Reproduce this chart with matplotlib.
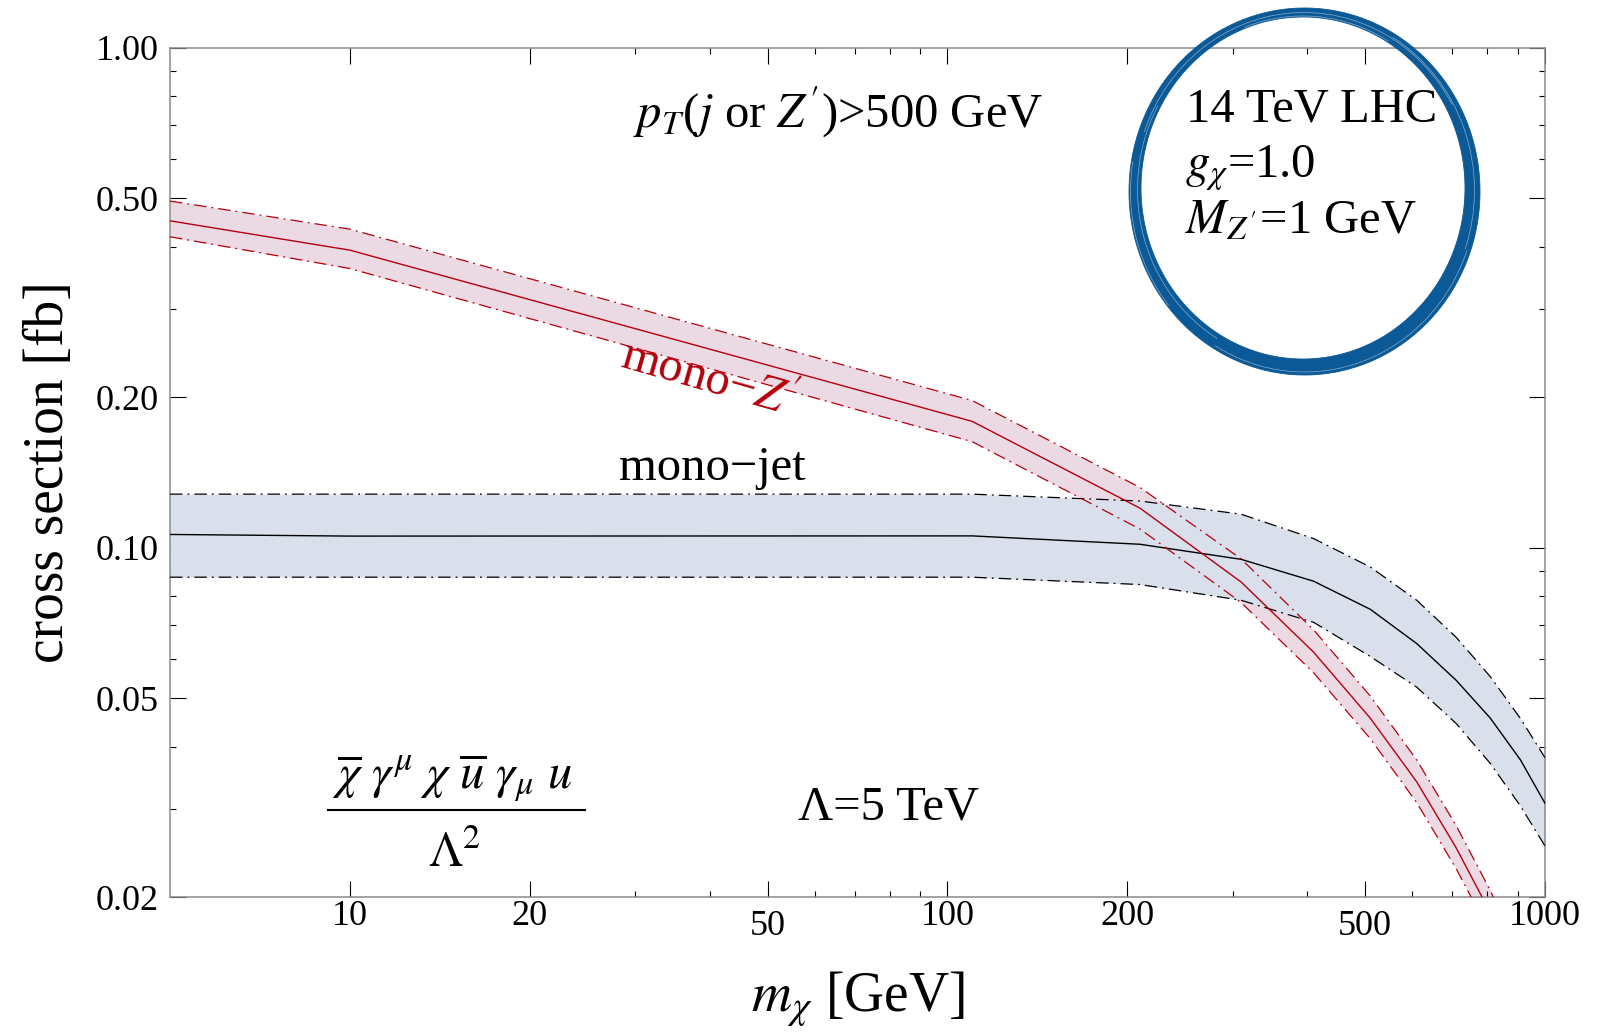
import numpy as np
import matplotlib
matplotlib.use("Agg")
import matplotlib.pyplot as plt
from matplotlib.patches import PathPatch, Arc
from matplotlib.path import Path
from matplotlib.ticker import FixedLocator, FixedFormatter, NullFormatter

plt.rcParams['font.family'] = ['Liberation Serif', 'DejaVu Serif']
plt.rcParams['mathtext.fontset'] = 'stix'

# dark matter mass grid [GeV]
m_chi = [5, 10, 110, 210, 310, 410, 510, 610, 710, 810, 910, 1000]

# mono-jet cross section [fb]: central value and scale band
jet_mid = [0.1063, 0.1055, 0.1056, 0.1016, 0.0948, 0.0857, 0.0753, 0.0643, 0.0543, 0.0456, 0.0376, 0.0308]
jet_hi = [0.128, 0.128, 0.128, 0.124, 0.1167, 0.1043, 0.0915, 0.0785, 0.0662, 0.0552, 0.0455, 0.0380]
jet_lo = [0.0873, 0.0873, 0.0873, 0.0844, 0.0785, 0.0709, 0.0606, 0.0526, 0.0445, 0.0370, 0.0304, 0.0253]

# mono-Z' cross section [fb]
zp_mid = [0.451, 0.394, 0.179, 0.120, 0.0854, 0.0618, 0.0456, 0.0340, 0.0251, 0.0186, 0.0137, 0.0105]
zp_hi = [0.494, 0.434, 0.197, 0.132, 0.095, 0.0685, 0.0505, 0.0376, 0.0278, 0.0206, 0.0152, 0.0116]
zp_lo = [0.419, 0.362, 0.163, 0.109, 0.0777, 0.0562, 0.0415, 0.0309, 0.0228, 0.0169, 0.0125, 0.0096]

x_major = [10, 20, 50, 100, 200, 500, 1000]
x_major_labels = ['10', '20', '50', '100', '200', '500', '1000']
x_minor = [30, 40, 60, 70, 80, 90, 300, 400, 600, 700, 800, 900]
y_major = [0.02, 0.05, 0.1, 0.2, 0.5, 1.0]
y_major_labels = ['0.02', '0.05', '0.10', '0.20', '0.50', '1.00']
y_minor = [0.03, 0.04, 0.06, 0.07, 0.08, 0.09, 0.3, 0.4, 0.6, 0.7, 0.8, 0.9]

W, H = 1608, 1033
fig = plt.figure(figsize=(W / 100, H / 100), dpi=100)
ax = fig.add_axes([170 / W, 1 - 897 / H, 1375 / W, 849 / H])

red = '#b3000c'
red_fill = '#ebd9e3'
blue_fill = '#d9dfeb'
dashdot = (0, (10, 4, 1.5, 4))

ax.fill_between(m_chi, zp_lo, zp_hi, color=red_fill, lw=0, zorder=1)
ax.fill_between(m_chi, jet_lo, jet_hi, color=blue_fill, lw=0, zorder=2)

ax.plot(m_chi, jet_hi, color='black', lw=0.9, ls=dashdot, zorder=3)
ax.plot(m_chi, jet_lo, color='black', lw=0.9, ls=dashdot, zorder=3)
ax.plot(m_chi, jet_mid, color='black', lw=1.0, zorder=3)
ax.plot(m_chi, zp_hi, color=red, lw=0.9, ls=dashdot, zorder=4)
ax.plot(m_chi, zp_lo, color=red, lw=0.9, ls=dashdot, zorder=4)
ax.plot(m_chi, zp_mid, color=red, lw=1.0, zorder=4)

ax.set_xscale('log')
ax.set_yscale('log')
ax.set_xlim(5, 1000)
ax.set_ylim(0.02, 1.0)

ax.xaxis.set_major_locator(FixedLocator(x_major))
ax.xaxis.set_major_formatter(NullFormatter())
ax.xaxis.set_minor_locator(FixedLocator(x_minor))
ax.xaxis.set_minor_formatter(NullFormatter())
ax.yaxis.set_major_locator(FixedLocator(y_major))
ax.yaxis.set_major_formatter(FixedFormatter(y_major_labels))
ax.yaxis.set_minor_locator(FixedLocator(y_minor))
ax.yaxis.set_minor_formatter(NullFormatter())

ax.tick_params(which='both', direction='in', top=True, right=True,
               color='black', width=0.8, labelsize=26)
ax.tick_params(which='major', length=11.5)
ax.tick_params(which='minor', length=4)
ax.tick_params(axis='y', pad=8)
for s in ax.spines.values():
    s.set_color('#8a8a8a')
    s.set_linewidth(1.1)

# x tick labels, with 50 and 500 set a little lower
xt = ax.get_xaxis_transform()
for v, lab in zip(x_major, x_major_labels):
    dy = -0.012 if lab in ('50', '500') else 0.0
    ax.text(v, -0.003 + dy, lab, transform=xt, ha='center', va='top', fontsize=26)

ax.set_xlabel(r'$m_\chi$ [GeV]', fontsize=40)
ax.xaxis.set_label_coords(0.5, -0.086)
ax.set_ylabel('cross section [fb]', fontsize=40)
ax.yaxis.set_label_coords(-0.069, 0.5)


def axpos(px, py):
    return (px - 170) / 1375, (897 - py) / 849


big = 35
ax.text(*axpos(838, 128), r'$p_T$($j$ or $Z^{\prime}$)>500 GeV', transform=ax.transAxes,
        ha='center', va='baseline', fontsize=big)
ax.text(*axpos(708, 380), 'mono\u2212$Z^{\\prime}$', transform=ax.transAxes, color=red,
        ha='center', va='center', rotation=-16, fontsize=big)
ax.text(*axpos(712, 480), 'mono\u2212jet', transform=ax.transAxes,
        ha='center', va='baseline', fontsize=big)
ax.text(*axpos(889, 820), '\u039b=5 TeV', transform=ax.transAxes,
        ha='center', va='baseline', fontsize=big)

# operator written as a fraction
ax.text(*axpos(452, 788),
        r'$\overline{\chi}\ \gamma^{\mu}\ \chi\ \overline{u}\ \gamma_{\mu}\ u$',
        transform=ax.transAxes, ha='center', va='baseline', fontsize=big)
x0, y0 = axpos(328, 810)
x1, _ = axpos(585, 810)
ax.plot([x0, x1], [y0, y0], transform=ax.transAxes, color='black', lw=1.5, clip_on=False)
ax.text(*axpos(455, 867), r'$\Lambda^{2}$', transform=ax.transAxes,
        ha='center', va='baseline', fontsize=big)

ax.text(*axpos(1186, 122), '14 TeV LHC', transform=ax.transAxes,
        ha='left', va='baseline', fontsize=big)
ax.text(*axpos(1185, 177), r'$g_{\chi}$=1.0', transform=ax.transAxes,
        ha='left', va='baseline', fontsize=big)
ax.text(*axpos(1185, 233), r'$M_{Z^{\prime}}$=1 GeV', transform=ax.transAxes,
        ha='left', va='baseline', fontsize=big)

# brush ring, drawn on a pixel overlay
ov = fig.add_axes([0, 0, 1, 1], zorder=5)
ov.set_xlim(0, W)
ov.set_ylim(H, 0)
ov.axis('off')
ov.patch.set_alpha(0)

t = np.linspace(0, 2 * np.pi, 400)
ox = 1304.5 + 175.5 * np.cos(t)
oy = 191.5 + 183.5 * np.sin(t)
ix = 1303.0 + 162 * np.cos(t[::-1])
iy = 188.0 + 171 * np.sin(t[::-1])
verts = np.concatenate([np.column_stack([ox, oy]), np.column_stack([ix, iy])])
codes = np.full(len(verts), Path.LINETO)
codes[0] = Path.MOVETO
codes[len(t)] = Path.MOVETO
ring = PathPatch(Path(verts, codes), facecolor='#0b5996', edgecolor='#0b5996', lw=0.6)
ov.add_patch(ring)

# light streaks across the stroke
for (rx, ry, cx, cy, a0, a1) in [(169, 177.5, 1304, 190, 200, 330),
                                 (172, 181, 1304.5, 191, 20, 120),
                                 (166, 174.5, 1303.5, 189.5, 120, 210),
                                 (170.5, 179.5, 1304, 190.5, 300, 380),
                                 (164.5, 173, 1303, 189, 250, 300),
                                 (174, 182.5, 1304.5, 191.5, 140, 190)]:
    ov.add_patch(Arc((cx, cy), 2 * rx, 2 * ry, theta1=a0, theta2=a1,
                     color='white', lw=0.5, alpha=0.5))

fig.savefig('out.png', dpi=100)
